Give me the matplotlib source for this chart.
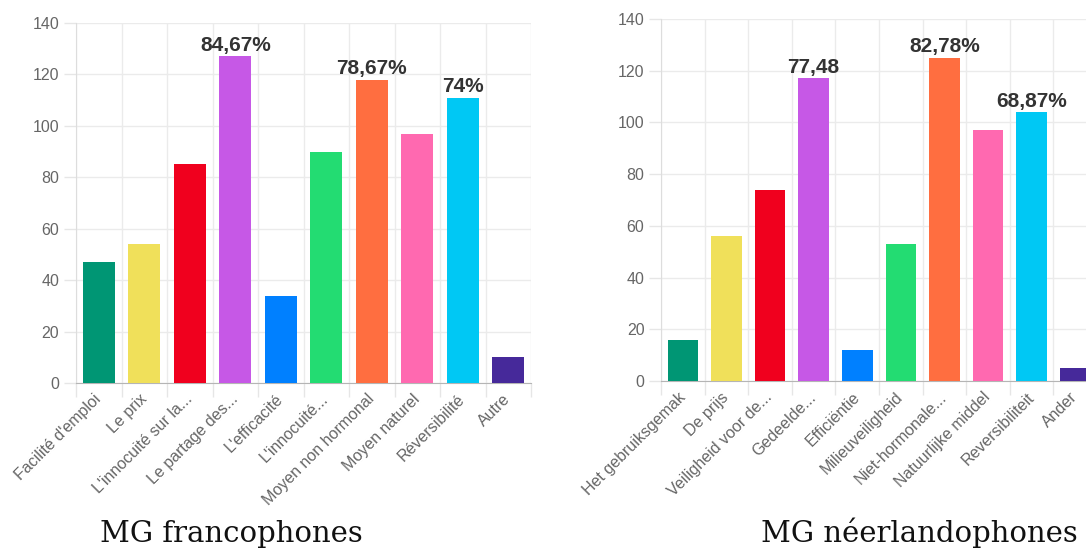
import matplotlib
matplotlib.use('Agg')
import matplotlib.pyplot as plt
import numpy as np

# données
fr_labels = ["Facilité d'emploi", "Le prix", "L'innocuité sur la...", "Le partage des...",
             "L'efficacité", "L'innocuité...", "Moyen non hormonal", "Moyen naturel",
             "Réversibilité", "Autre"]
fr_values = [47, 54, 85, 127, 34, 90, 118, 97, 111, 10]
fr_notes = ['', '', '', '84,67%', '', '', '78,67%', '', '74%', '']

nl_labels = ["Het gebruiksgemak", "De prijs", "Veiligheid voor de...", "Gedeelde...",
             "Efficiëntie", "Milieuveiligheid", "Niet-hormonale...", "Natuurlijke middel",
             "Reversibiliteit", "Ander"]
nl_values = [16, 56, 74, 117, 12, 53, 125, 97, 104, 5]
nl_notes = ['', '', '', '77,48', '', '', '82,78%', '', '68,87%', '']

bar_colors = ['#009674', '#F0E05A', '#F0001E', '#C658E6', '#0080FF',
              '#23DC72', '#FF6E40', '#FF69B0', '#00C8F4', '#46299A']

plt.rcParams['font.family'] = ['Liberation Sans', 'DejaVu Sans']

fig = plt.figure(figsize=(10.86, 5.49), dpi=100)


def drawing(ax, labels, values, notes, title, title_x):
    x = np.arange(len(values))
    ax.bar(x, values, width=0.7, color=bar_colors, zorder=3)
    ax.set_xlim(-0.5, len(values) - 0.5)
    ax.set_ylim(0, 140)
    ax.set_yticks(np.arange(0, 141, 20))

    # lignes verticales entre les catégories
    ax.set_xticks(np.arange(len(values) + 1) - 0.5, minor=True)
    ax.set_xticks(x)
    ax.set_xticklabels(labels, rotation=45, ha='right', va='center',
                       rotation_mode='anchor', fontsize=11.5, color='#666666')
    ax.tick_params(axis='x', which='major', length=0, pad=10)
    ax.tick_params(axis='x', which='minor', length=10, color='#e6e6e6', width=1)
    ax.tick_params(axis='y', length=9, color='#e6e6e6', width=1, pad=3,
                   labelsize=11.5, labelcolor='#666666')
    ax.grid(axis='x', which='minor', color='#ebebeb', lw=1, zorder=0)
    ax.grid(axis='y', which='major', color='#ebebeb', lw=1, zorder=0)

    for s in ['top', 'right']:
        ax.spines[s].set_visible(False)
    ax.spines['left'].set_color('#dddddd')
    ax.spines['bottom'].set_color('#b5b5b5')

    # pourcentages au-dessus des barres
    for i, n in enumerate(notes):
        if n:
            ax.annotate(n, (x[i], values[i]), xytext=(0, 4), textcoords='offset points',
                        ha='center', va='baseline', fontsize=15, fontweight='bold',
                        color='#333333', annotation_clip=False)

    fig.text(title_x, 0.013, title, ha='center', va='baseline',
             family='DejaVu Serif', fontsize=21, color='#111111')


ax1 = fig.add_axes([0.0700, 0.3024, 0.4190, 0.6557])
drawing(ax1, fr_labels, fr_values, fr_notes, 'MG francophones', 231 / 1086)

ax2 = fig.add_axes([0.6087, 0.3060, 0.4015, 0.6594])
drawing(ax2, nl_labels, nl_values, nl_notes, 'MG néerlandophones', 919 / 1086)

plt.savefig('out.png', dpi=100)
plt.close()
